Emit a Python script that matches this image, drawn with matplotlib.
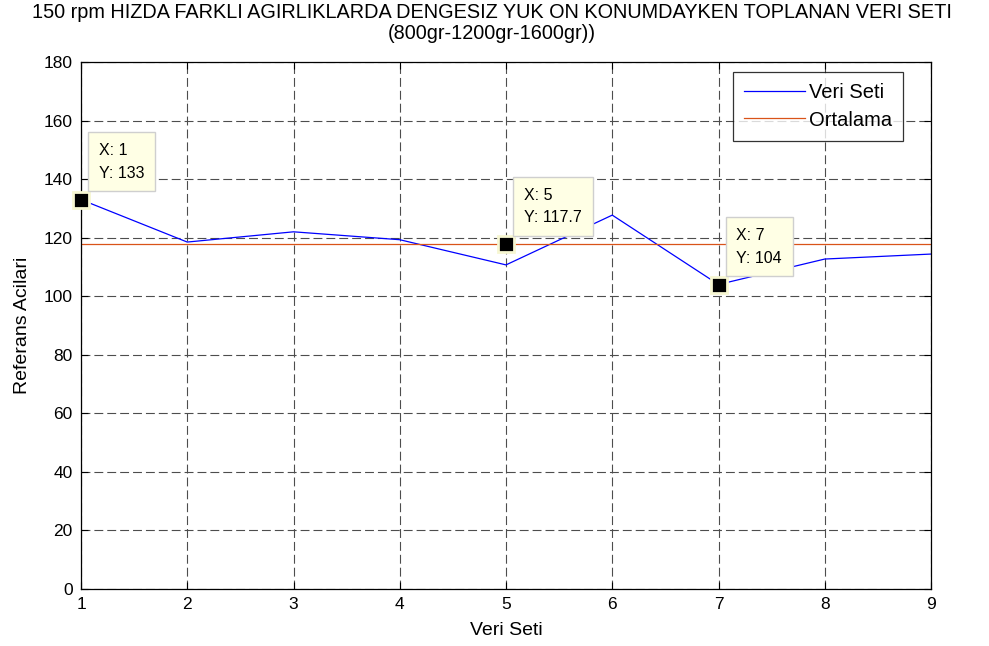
import matplotlib
matplotlib.use("Agg")
import matplotlib.pyplot as plt

plt.rcParams['font.family'] = ['Liberation Sans', 'DejaVu Sans']

# Measured reference angles for each data set
veri_seti = [1, 2, 3, 4, 5, 6, 7, 8, 9]
referans_acilari = [133, 118.5, 122, 119.3, 110.7, 127.7, 104, 112.7, 114.4]
ortalama = 117.7

# Data tips shown on the chart: (x, y, label)
tip_x = [1, 5, 7]
tip_y = [133, 117.7, 104]
tip_labels = ["X: 1\nY: 133", "X: 5\nY: 117.7", "X: 7\nY: 104"]

y_ticks = [0, 20, 40, 60, 80, 100, 120, 140, 160, 180]

fig = plt.figure(figsize=(9.89, 6.46), dpi=100)
ax = fig.add_axes([81 / 989, 57 / 646, 850 / 989, 527 / 646])

ax.plot(veri_seti, referans_acilari, color='#0000ff', lw=0.9, label='Veri Seti')
ax.plot([veri_seti[0], veri_seti[-1]], [ortalama, ortalama], color='#d95319', lw=0.9,
        label='Ortalama')

ax.set_xlim(1, 9)
ax.set_ylim(0, 180)
ax.set_xticks(veri_seti)
ax.set_yticks(y_ticks)
ax.grid(True, color='0.3', linestyle=(0, (8, 3.6)), linewidth=0.8)
ax.set_axisbelow(True)
ax.tick_params(direction='in', length=5, width=0.8, top=True, right=True,
               labelsize=12.5, pad=6, colors='black')
for s in ax.spines.values():
    s.set_linewidth(0.9)
    s.set_color('black')

ax.set_xlabel('Veri Seti', fontsize=14, labelpad=7)
ax.set_ylabel('Referans Acilari', fontsize=14, labelpad=9)

fig.text(0.497, 0.995, '150 rpm HIZDA FARKLI AGIRLIKLARDA DENGESIZ YUK ON KONUMDAYKEN TOPLANAN VERI SETI',
         ha='center', va='top', fontsize=14.3)
fig.text(0.497, 0.963, '(800gr-1200gr-1600gr))', ha='center', va='top', fontsize=14.3)

leg = ax.legend(loc='upper right', bbox_to_anchor=(1 - 28 / 850, 1 - 10 / 527),
                fontsize=14.5, frameon=True, fancybox=False, edgecolor='black',
                handlelength=3.0, handletextpad=0.2, borderpad=0.55,
                labelspacing=0.42, borderaxespad=0)
leg.get_frame().set_linewidth(0.9)

for x, y, lab in zip(tip_x, tip_y, tip_labels):
    ax.plot(x, y, marker='s', ms=11, mfc='black', mec='#f7f7d2', mew=2,
            clip_on=False, zorder=6)
    ax.annotate(lab, xy=(x, y), xytext=(18, 19), textcoords='offset pixels',
                ha='left', va='bottom', fontsize=11.5, linespacing=1.65,
                zorder=7,
                bbox=dict(boxstyle='square,pad=0.68', fc='#ffffe5', ec='#cfcfcf', lw=1))

fig.savefig('out.png', dpi=100)
